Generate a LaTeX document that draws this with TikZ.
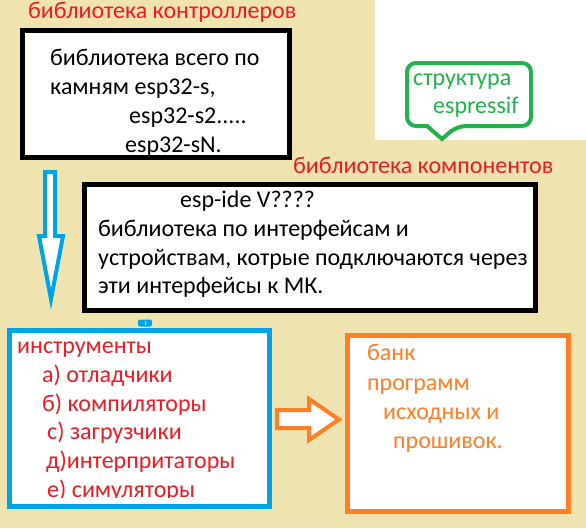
\documentclass[tikz,border=0pt]{standalone}
\usepackage{fontspec}
\setmainfont{Carlito}
\definecolor{bgtan}{HTML}{EFE4B0}
\definecolor{cblue}{HTML}{00A2E8}
\definecolor{corange}{HTML}{FF7F27}
\definecolor{cgreen}{HTML}{22B14C}
\definecolor{cred}{HTML}{ED1C24}
\begin{document}
\begin{tikzpicture}[x=1pt,y=-1pt,
  txt/.style={anchor=base west, inner sep=0pt, font=\fontsize{24}{29}\selectfont},
  box/.style={draw, fill=white, line width=5pt, inner sep=0pt, anchor=center},
  blockarrow/.style={fill=white, line width=4pt, line join=miter}]
\useasboundingbox (0,0) rectangle (586,528);
\fill[bgtan] (0,0) rectangle (586,528);
\fill[white] (375,0) rectangle (586,140);

% box 1
\node[box, draw=black, minimum width=267pt, minimum height=127pt] (b1) at (156,94) {};
\node[txt, text=cred] (t1) at (28,18) {библиотека контроллеров};
\node[txt] (b1l1) at (50,65) {библиотека всего по};
\node[txt] (b1l2) at (50,94) {камням esp32-s,};
\node[txt] (b1l3) at (129,123) {esp32-s2.....};
\node[txt] (b1l4) at (125,152) {esp32-sN.};

% green callout
\draw[cgreen, line width=4pt, rounded corners=9pt] (407,63) -- (531,63) -- (531,126) -- (457,126)
  [sharp corners] -- (442,139) -- (427,126) [rounded corners=9pt] -- (407,126) -- cycle;
\node[txt, text=cgreen] (g1) at (413,85) {структура};
\node[txt, text=cgreen] (g2) at (433,113) {espressif};

% box 2
\node[txt, text=cred] (t2) at (293,173) {библиотека компонентов};
\node[box, draw=black, minimum width=451pt, minimum height=126pt] (b2) at (310,247.5) {};
\node[txt] (b2l1) at (180,207) {esp-ide V????};
\node[txt] (b2l2) at (98,236) {библиотека по интерфейсам и};
\node[txt] (b2l3) at (98,265) {устройствам, котрые подключаются через};
\node[txt] (b2l4) at (98,293) {эти интерфейсы к МК.};

% blue down arrow
\draw[blockarrow, draw=cblue] (45,172) -- (55,172) -- (55,236) -- (63,236) -- (51,299) -- (39,236) -- (45,236) -- cycle;

% small blue mark
\node[fill=cblue, rounded corners=2pt, minimum width=14pt, minimum height=7pt, inner sep=0pt] (mk) at (145,323) {};
\draw[white, line width=1pt] (mk.center) ++(0,-2) -- ++(0,4);

% blue box
\node[box, draw=cblue, minimum width=260pt, minimum height=176pt] (b3) at (139.5,418.5) {};
\node[txt, text=cred] (b3l1) at (17,353) {инструменты};
\node[txt, text=cred] (b3l2) at (42,382) {а) отладчики};
\node[txt, text=cred] (b3l3) at (42,411) {б) компиляторы};
\node[txt, text=cred] (b3l4) at (47,439) {с) загрузчики};
\node[txt, text=cred] (b3l5) at (46,468) {д)интерпритаторы};
\begin{scope}
  \clip (12,470) rectangle (267,497.5);
  \node[txt, text=cred] (b3l6) at (47,497.5) {е) симуляторы};
\end{scope}

% orange arrow
\draw[blockarrow, draw=corange] (277,410) -- (309,410) -- (309,399) -- (339,419.5) -- (309,440) -- (309,428) -- (277,428) -- cycle;

% orange box
\node[box, draw=corange, minimum width=221pt, minimum height=176pt] (b4) at (458,423.5) {};
\node[txt, text=corange] (b4l1) at (367,360) {банк};
\node[txt, text=corange] (b4l2) at (367,390) {программ};
\node[txt, text=corange] (b4l3) at (383,419) {исходных и};
\node[txt, text=corange] (b4l4) at (393,448) {прошивок.};
\end{tikzpicture}
\end{document}
